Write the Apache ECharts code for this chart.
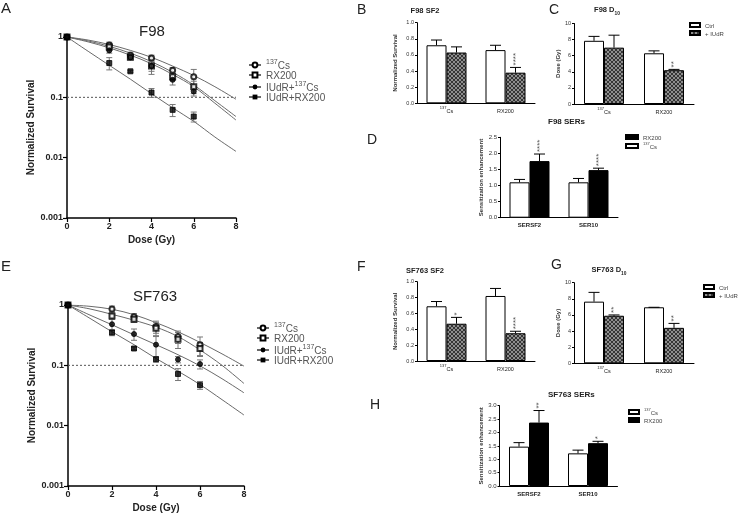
<!DOCTYPE html>
<html><head><meta charset="utf-8">
<script src="https://cdn.jsdelivr.net/npm/echarts@6/dist/echarts.min.js"></script>
<style>html,body{margin:0;padding:0;background:#fff}#c{width:738px;height:514px}</style>
</head><body><div id="c"></div>
<script>
// ================= DATA =================
const survDoses = [0, 2, 3, 4, 5, 6];
const fitDoses = [0, 1, 2, 3, 4, 5, 6, 7, 8];
const survGroups = ['137Cs', 'RX200', 'IUdR+137Cs', 'IUdR+RX200'];
const logTickLabels = ['0.001', '0.01', '0.1', '1'];

// F98 survival (panel A)
const f98Cs = [1, 0.74, 0.50, 0.45, 0.28, 0.22];
const f98CsErr = [0, 0.08, 0.06, 0.05, 0.03, 0.07];
const f98Rx = [1, 0.68, 0.46, 0.33, 0.22, 0.15];
const f98RxErr = [0, 0.08, 0.04, 0.09, 0.03, 0.035];
const f98IuCs = [1, 0.60, 0.46, 0.33, 0.195, 0.125];
const f98IuCsErr = [0, 0.06, 0.04, 0.06, 0.035, 0.02];
const f98IuRx = [1, 0.37, 0.27, 0.12, 0.062, 0.048];
const f98IuRxErr = [0, 0.085, 0.01, 0.02, 0.014, 0.009];
const f98FitCs = [1, 0.89, 0.75, 0.60, 0.46, 0.33, 0.23, 0.15, 0.093];
const f98FitRx = [1, 0.86, 0.70, 0.54, 0.39, 0.26, 0.16, 0.088, 0.048];
const f98FitIuCs = [1, 0.83, 0.66, 0.50, 0.36, 0.24, 0.15, 0.08, 0.042];
const f98FitIuRx = [1, 0.58, 0.34, 0.20, 0.115, 0.067, 0.04, 0.022, 0.0127];

// SF763 survival (panel E)
const sfCs = [1, 0.86, 0.64, 0.44, 0.30, 0.22];
const sfCsErr = [0, 0.10, 0.08, 0.10, 0.07, 0.075];
const sfRx = [1, 0.66, 0.58, 0.41, 0.27, 0.19];
const sfRxErr = [0, 0.08, 0.065, 0.10, 0.08, 0.05];
const sfIuCs = [1, 0.48, 0.33, 0.22, 0.125, 0.105];
const sfIuCsErr = [0, 0.10, 0.07, 0.08, 0.015, 0.018];
const sfIuRx = [1, 0.35, 0.19, 0.126, 0.072, 0.047];
const sfIuRxErr = [0, 0.04, 0.01, 0.013, 0.016, 0.007];
const sfFitCs = [1, 0.95, 0.85, 0.69, 0.51, 0.36, 0.24, 0.155, 0.097];
const sfFitRx = [1, 0.86, 0.70, 0.56, 0.43, 0.30, 0.18, 0.10, 0.05];
const sfFitIuCs = [1, 0.68, 0.47, 0.32, 0.22, 0.15, 0.098, 0.06, 0.035];
const sfFitIuRx = [1, 0.60, 0.36, 0.22, 0.13, 0.08, 0.048, 0.027, 0.015];
const threshold = 0.1;

// Bar panels
const sourceCats = ['137Cs', 'RX200'];
const serCats = ['SERSF2', 'SER10'];

const f98Sf2Ctrl = [0.72, 0.66], f98Sf2CtrlErr = [0.065, 0.06];
const f98Sf2Iu = [0.63, 0.38], f98Sf2IuErr = [0.07, 0.065];
const f98Sf2Stars = ['', '****'];

const f98D10Ctrl = [7.85, 6.3], f98D10CtrlErr = [0.55, 0.3];
const f98D10Iu = [7.0, 4.2], f98D10IuErr = [1.55, 0.1];
const f98D10Stars = ['', '**'];

const f98SerCs = [1.10, 1.10], f98SerCsErr = [0.09, 0.12];
const f98SerRx = [1.76, 1.48], f98SerRxErr = [0.22, 0.06];
const f98SerStars = ['****', '****'];

const sfSf2Ctrl = [0.69, 0.82], sfSf2CtrlErr = [0.06, 0.095];
const sfSf2Iu = [0.47, 0.35], sfSf2IuErr = [0.08, 0.025];
const sfSf2Stars = ['*', '****'];

const sfD10Ctrl = [7.65, 6.95], sfD10CtrlErr = [1.15, 0];
const sfD10Iu = [5.9, 4.4], sfD10IuErr = [0.1, 0.55];
const sfD10Stars = ['**', '**'];

const sfSerCs = [1.47, 1.22], sfSerCsErr = [0.15, 0.12];
const sfSerRx = [2.37, 1.60], sfSerRxErr = [0.45, 0.07];
const sfSerStars = ['**', '*'];

// ================= CHART =================
const FONT = '"Liberation Sans", Arial, Helvetica, sans-serif';
const chart = echarts.init(document.getElementById('c'), null, {renderer: 'canvas', width: 738, height: 514});

const hatch = (function () {
  const c = document.createElement('canvas'); c.width = 4; c.height = 4;
  const g = c.getContext('2d');
  g.fillStyle = '#353535'; g.fillRect(0, 0, 4, 4);
  g.fillStyle = '#8e8e8e';
  [[0,0],[1,1],[2,2],[3,3],[3,0],[2,1],[1,2],[0,3]].forEach(p => g.fillRect(p[0], p[1], 1, 1));
  return c;
})();

const symbols = ['emptyCircle', 'emptyRect', 'circle', 'rect'];

function supName(n) {
  return n.replace(/137Cs/, '{sup|137}{n|Cs}').replace(/^(IUdR\+)(\{)/, '{n|$1}$2').replace(/^RX200$|^IUdR\+RX200$/, m => '{n|' + m + '}');
}

const grids = [
  {left: 67, top: 37, width: 169, height: 181},      // A
  {left: 68, top: 305, width: 176, height: 181},     // E
  {left: 417, top: 22.7, width: 118, height: 80.6},  // B
  {left: 574, top: 23.5, width: 120, height: 80.5},  // C
  {left: 500, top: 137.3, width: 118, height: 80.4}, // D
  {left: 417, top: 281.7, width: 118, height: 79.3}, // F
  {left: 574, top: 282.7, width: 120, height: 80.6}, // G
  {left: 499.5, top: 405.7, width: 118, height: 80.3} // H
].map(g => Object.assign({containLabel: false, outerBoundsMode: 'none'}, g));

const xAxes = [], yAxes = [], series = [];

function logLabel(v) {
  const e = Math.round(Math.log10(v));
  return logTickLabels[e + 3];
}

function survAxes(gi) {
  xAxes.push({type: 'value', gridIndex: gi, min: 0, max: 8, interval: 2,
    axisLine: {lineStyle: {color: '#000', width: 1.5}},
    axisTick: {show: true, length: 4, lineStyle: {color: '#000', width: 1.2}},
    splitLine: {show: false},
    axisLabel: {fontSize: 9, fontWeight: 'bold', color: '#222', margin: 4, fontFamily: FONT},
    name: 'Dose (Gy)', nameLocation: 'middle', nameGap: 17,
    nameTextStyle: {fontSize: 10, fontWeight: 'bold', color: '#222', fontFamily: FONT}});
  yAxes.push({type: 'log', logBase: 10, gridIndex: gi, min: 0.001, max: 1,
    axisLine: {show: true, lineStyle: {color: '#000', width: 1.5}},
    axisTick: {show: true, length: 4, lineStyle: {color: '#000', width: 1.2}},
    splitLine: {show: false},
    axisLabel: {fontSize: 9, fontWeight: 'bold', color: '#222', margin: 4, fontFamily: FONT, formatter: logLabel},
    name: 'Normalized Survival', nameLocation: 'middle', nameGap: 27,
    nameTextStyle: {fontSize: 10, fontWeight: 'bold', color: '#222', fontFamily: FONT}});
}

function survSeries(ai, pts, errs, fits) {
  series.push({type: 'line', xAxisIndex: ai, yAxisIndex: ai, silent: true, symbol: 'none',
    data: [[0, threshold], [8, threshold]], lineStyle: {type: [2, 2], color: '#555', width: 1}, z: 1});
  for (let g = 0; g < 4; g++) {
    series.push({name: survGroups[g], type: 'line', xAxisIndex: ai, yAxisIndex: ai, silent: true,
      data: fitDoses.map((d, i) => [d, fits[g][i]]), smooth: 0.35,
      symbol: symbols[g], symbolSize: 5, showSymbol: false,
      lineStyle: {color: '#6a6a6a', width: 1}, itemStyle: {color: '#000'}, z: 2});
    series.push({type: 'custom', xAxisIndex: ai, yAxisIndex: ai, silent: true, z: 3,
      data: survDoses.map((d, i) => [d, pts[g][i] - errs[g][i], pts[g][i] + errs[g][i]]),
      renderItem: function (params, api) {
        if (api.value(2) - api.value(1) <= 0) return null;
        const lo = api.coord([api.value(0), api.value(1)]);
        const hi = api.coord([api.value(0), api.value(2)]);
        const st = {stroke: '#777', lineWidth: 1};
        return {type: 'group', children: [
          {type: 'line', shape: {x1: lo[0], y1: lo[1], x2: hi[0], y2: hi[1]}, style: st},
          {type: 'line', shape: {x1: lo[0] - 3, y1: lo[1], x2: lo[0] + 3, y2: lo[1]}, style: st},
          {type: 'line', shape: {x1: hi[0] - 3, y1: hi[1], x2: hi[0] + 3, y2: hi[1]}, style: st}
        ]};
      }});
    series.push({type: 'scatter', xAxisIndex: ai, yAxisIndex: ai, silent: true, z: 4,
      symbol: symbols[g], symbolSize: 5,
      itemStyle: {color: '#000', borderColor: '#000', borderWidth: 1},
      data: survDoses.map((d, i) => [d, pts[g][i]])});
  }
}

survAxes(0);
survSeries(0, [f98Cs, f98Rx, f98IuCs, f98IuRx], [f98CsErr, f98RxErr, f98IuCsErr, f98IuRxErr],
  [f98FitCs, f98FitRx, f98FitIuCs, f98FitIuRx]);
survAxes(1);
survSeries(1, [sfCs, sfRx, sfIuCs, sfIuRx], [sfCsErr, sfRxErr, sfIuCsErr, sfIuRxErr],
  [sfFitCs, sfFitRx, sfFitIuCs, sfFitIuRx]);

const catRich = {
  sup: {fontSize: 4, lineHeight: 4, verticalAlign: 'top', color: '#222', fontFamily: FONT},
  n: {fontSize: 5.5, lineHeight: 8, verticalAlign: 'bottom', color: '#222', fontFamily: FONT}
};
function catFmt(v) { return v === '137Cs' ? '{sup|137}{n|Cs}' : '{n|' + v + '}'; }

function barAxes(gi, cats, max, interval, dec, name, nameGap, fs, bold) {
  xAxes.push({type: 'category', gridIndex: gi, data: cats,
    axisLine: {lineStyle: {color: '#000', width: 1}},
    axisTick: {alignWithLabel: true, interval: 0, length: 2, lineStyle: {color: '#000'}},
    axisLabel: {interval: 0, margin: 3, formatter: catFmt,
      rich: {sup: catRich.sup, n: Object.assign({}, catRich.n, {fontWeight: bold ? 'bold' : 'normal', fontSize: fs})}}});
  yAxes.push({type: 'value', gridIndex: gi, min: 0, max: max, interval: interval,
    axisLine: {show: true, lineStyle: {color: '#000', width: 1}},
    axisTick: {show: true, length: 2, lineStyle: {color: '#000'}},
    splitLine: {show: false},
    axisLabel: {fontSize: fs, color: '#333', margin: 3, fontFamily: FONT, formatter: v => v.toFixed(dec)},
    name: name, nameLocation: 'middle', nameGap: nameGap,
    nameTextStyle: {fontSize: 6, fontWeight: 'bold', color: '#333', fontFamily: FONT}});
}

function errSeries(ai, vals, errs, off) {
  series.push({type: 'custom', xAxisIndex: ai, yAxisIndex: ai, silent: true, z: 3,
    data: vals.map((v, i) => [i, v, errs[i]]),
    renderItem: function (params, api) {
      const p = api.coord([api.value(0), api.value(1)]);
      const q = api.coord([api.value(0), api.value(1) + api.value(2)]);
      const x = p[0] + off;
      const st = {stroke: '#000', lineWidth: 1};
      return {type: 'group', children: [
        {type: 'line', shape: {x1: x, y1: p[1], x2: x, y2: q[1]}, style: st},
        {type: 'line', shape: {x1: x - 5.5, y1: q[1], x2: x + 5.5, y2: q[1]}, style: st}
      ]};
    }});
}
function starSeries(ai, vals, errs, stars, off) {
  series.push({type: 'custom', xAxisIndex: ai, yAxisIndex: ai, silent: true, z: 3,
    data: vals.map((v, i) => [i, v + errs[i]]),
    renderItem: function (params, api) {
      const s = stars[params.dataIndex];
      if (!s) return null;
      const p = api.coord([api.value(0), api.value(1)]);
      return {type: 'text', x: p[0] + off, y: p[1] - 2, rotation: Math.PI / 2,
        style: {text: s, fill: '#555', fontSize: 8, fontFamily: FONT, align: 'left', verticalAlign: 'middle'}};
    }});
}
function barPanel(ai, cats, v1, e1, n1, c1, v2, e2, n2, c2, stars, max, interval, dec, name, gap, fs, bold) {
  barAxes(ai, cats, max, interval, dec, name, gap, fs, bold);
  series.push({name: n1, type: 'bar', xAxisIndex: ai, yAxisIndex: ai, data: v1, barWidth: 20, barGap: '0%',
    silent: true, itemStyle: {color: c1, borderColor: '#000', borderWidth: 1}, z: 2});
  series.push({name: n2, type: 'bar', xAxisIndex: ai, yAxisIndex: ai, data: v2, barWidth: 20, barGap: '0%',
    silent: true, itemStyle: {color: c2, borderColor: '#000', borderWidth: 1}, z: 2});
  errSeries(ai, v1, e1, -10);
  errSeries(ai, v2, e2, 10);
  starSeries(ai, v2, e2, stars, 10);
}
const hatchFill = {image: hatch, repeat: 'repeat'};
barPanel(2, sourceCats, f98Sf2Ctrl, f98Sf2CtrlErr, 'Ctrl', '#fff', f98Sf2Iu, f98Sf2IuErr, '+ IUdR', hatchFill,
  f98Sf2Stars, 1.0, 0.2, 1, 'Normalized Survival', 19, 5.5, false);
barPanel(3, sourceCats, f98D10Ctrl, f98D10CtrlErr, 'Ctrl', '#fff', f98D10Iu, f98D10IuErr, '+ IUdR', hatchFill,
  f98D10Stars, 10, 2, 0, 'Dose (Gy)', 11, 5.5, false);
barPanel(4, serCats, f98SerCs, f98SerCsErr, 'SER·137Cs', '#fff', f98SerRx, f98SerRxErr, 'SER·RX200', '#000',
  f98SerStars, 2.5, 0.5, 1, 'Sensitization enhancement', 15, 6, true);
barPanel(5, sourceCats, sfSf2Ctrl, sfSf2CtrlErr, 'Ctrl', '#fff', sfSf2Iu, sfSf2IuErr, '+ IUdR', hatchFill,
  sfSf2Stars, 1.0, 0.2, 1, 'Normalized Survival', 19, 5.5, false);
barPanel(6, sourceCats, sfD10Ctrl, sfD10CtrlErr, 'Ctrl', '#fff', sfD10Iu, sfD10IuErr, '+ IUdR', hatchFill,
  sfD10Stars, 10, 2, 0, 'Dose (Gy)', 11, 5.5, false);
barPanel(7, serCats, sfSerCs, sfSerCsErr, 'SER·137Cs', '#fff', sfSerRx, sfSerRxErr, 'SER·RX200', '#000',
  sfSerStars, 3.0, 0.5, 1, 'Sensitization enhancement', 15, 6, true);

const survLegendRich = {
  n: {fontSize: 10, lineHeight: 12, verticalAlign: 'bottom', color: '#555', fontFamily: FONT},
  sup: {fontSize: 7, lineHeight: 7, verticalAlign: 'top', color: '#555', fontFamily: FONT}
};
function survLegend(left, top) {
  return {orient: 'vertical', left: left, top: top, padding: 0, itemGap: 0, itemWidth: 12, itemHeight: 6,
    data: survGroups, selectedMode: false, formatter: supName,
    textStyle: {rich: survLegendRich, fontFamily: FONT}};
}
const barLegendRich = {
  n: {fontSize: 6, lineHeight: 8, verticalAlign: 'bottom', color: '#444', fontFamily: FONT},
  sup: {fontSize: 4, lineHeight: 4, verticalAlign: 'top', color: '#444', fontFamily: FONT}
};
function barLegend(left, top, names, w) {
  return {orient: 'vertical', left: left, top: top, padding: 0, itemGap: 1, itemWidth: w, itemHeight: 4,
    icon: 'rect', data: names, selectedMode: false,
    formatter: n => { const t = n.replace('SER·', ''); return t === '137Cs' ? '{sup|137}{n|Cs}' : '{n|' + t + '}'; },
    textStyle: {rich: barLegendRich, fontFamily: FONT}};
}

function txt(x, y, text, size, opts) {
  return Object.assign({type: 'text', x: x, y: y, silent: true,
    style: Object.assign({text: text, fontSize: size, fontFamily: FONT, fill: '#222',
      align: 'left', verticalAlign: 'middle'}, opts || {})});
}
const subRich = (size) => ({
  b: {fontSize: size, fontWeight: 'bold', fontFamily: FONT, fill: '#222', lineHeight: size + 3, verticalAlign: 'top'},
  s: {fontSize: size * 0.65, fontWeight: 'bold', fontFamily: FONT, fill: '#222', lineHeight: size + 3, verticalAlign: 'bottom'}
});

const graphics = [
  txt(1, 9, 'A', 15), txt(152, 32, 'F98', 15, {align: 'center'}),
  txt(357, 10, 'B', 14), txt(425, 11, 'F98 SF2', 7.5, {align: 'center', fontWeight: 'bold'}),
  txt(549, 10, 'C', 14), {type: 'text', x: 607, y: 11, silent: true,
    style: {text: '{b|F98 D}{s|10}', rich: subRich(7.5), align: 'center', verticalAlign: 'middle'}},
  txt(367, 140, 'D', 14), txt(548, 122, 'F98 SERs', 8, {fontWeight: 'bold'}),
  txt(1, 267, 'E', 15), txt(155, 297, 'SF763', 15, {align: 'center'}),
  txt(357, 267, 'F', 14), txt(425, 271, 'SF763 SF2', 7.5, {align: 'center', fontWeight: 'bold'}),
  txt(551, 265, 'G', 14), {type: 'text', x: 609, y: 271, silent: true,
    style: {text: '{b|SF763 D}{s|10}', rich: subRich(7.5), align: 'center', verticalAlign: 'middle'}},
  txt(370, 405, 'H', 14), txt(548, 395, 'SF763 SERs', 8, {fontWeight: 'bold'})
];

chart.setOption({
  animation: false,
  backgroundColor: '#fff',
  textStyle: {fontFamily: FONT},
  grid: grids,
  xAxis: xAxes,
  yAxis: yAxes,
  legend: [
    survLegend(248, 59), survLegend(256, 322),
    barLegend(689, 22, ['Ctrl', '+ IUdR'], 10),
    barLegend(703, 284, ['Ctrl', '+ IUdR'], 10),
    barLegend(625, 134, ['SER·RX200', 'SER·137Cs'], 12),
    barLegend(628, 408, ['SER·137Cs', 'SER·RX200'], 10)
  ],
  graphic: graphics,
  series: series
});
</script></body></html>
